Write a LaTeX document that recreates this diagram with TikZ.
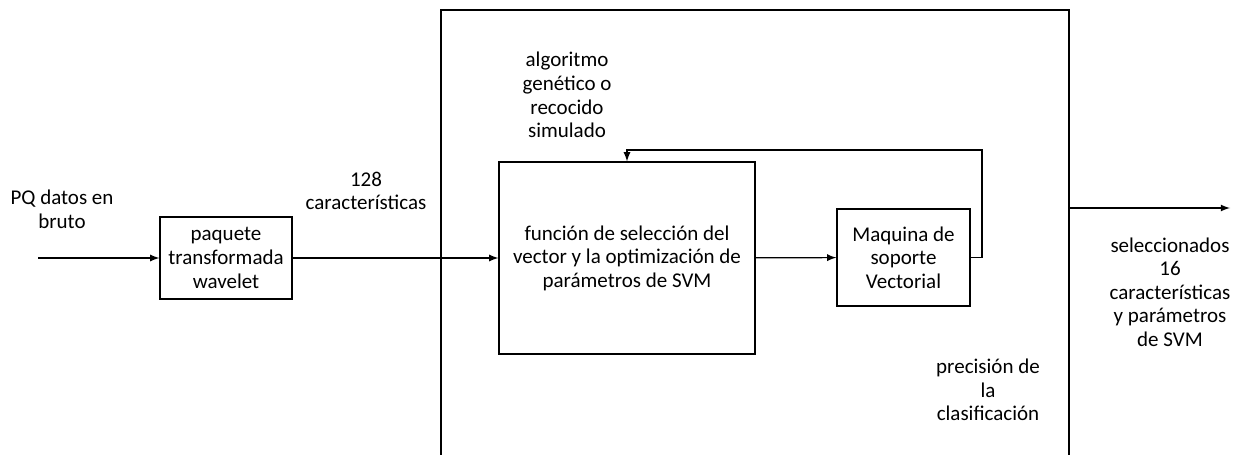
\documentclass[tikz,border=0pt]{standalone}
\usepackage{fontspec}
\setmainfont{Carlito}
\usetikzlibrary{arrows}

\begin{document}
\begin{tikzpicture}[x=0.5pt, y=-0.5pt, >=latex, line width=0.6pt,
  every node/.style={font=\fontsize{10.5}{11.8}\selectfont, align=center},
  bloque/.style={draw, inner sep=0pt}]
 \clip (0,0) rectangle (1237,455);
 % bloques
 \node[bloque, minimum width=314pt, minimum height=245pt] (sistema) at (755,255) {};
 \node[bloque, minimum width=66pt, minimum height=41pt] (paquete) at (226,258) {paquete\\transformada\\wavelet};
 \node[bloque, minimum width=128pt, minimum height=96pt] (funcion) at (627,258) {funci\'on de selecci\'on del\\vector y la optimizaci\'on de\\par\'ametros de SVM};
 \node[bloque, minimum width=66.5pt, minimum height=48.5pt] (svm) at (903.5,257.5) {Maquina de\\soporte\\Vectorial};
 % etiquetas
 \node (datos) at (62,209) {PQ datos en\\bruto};
 \node (caract) at (366,191) {128\\caracter\'isticas};
 \node (algoritmo) at (567,95) {algoritmo\\gen\'etico o\\recocido\\simulado};
 \node (precision) at (988,390) {precisi\'on de\\la\\clasificaci\'on};
 \node (seleccion) at (1170,292) {seleccionados\\16\\caracter\'isticas\\y par\'ametros\\de SVM};
 \coordinate (entrada) at (38,258);
 \coordinate (salida) at (1230,208);
 \coordinate (retorno) at (982,150);
 % conexiones
 \path[->]
  (entrada) edge (paquete)
  (paquete) edge (funcion)
  (funcion) edge (svm)
  (sistema.east |- salida) edge (salida);
 \draw[->] (svm.east) -| (retorno) -| (funcion.north);
\end{tikzpicture}
\end{document}
